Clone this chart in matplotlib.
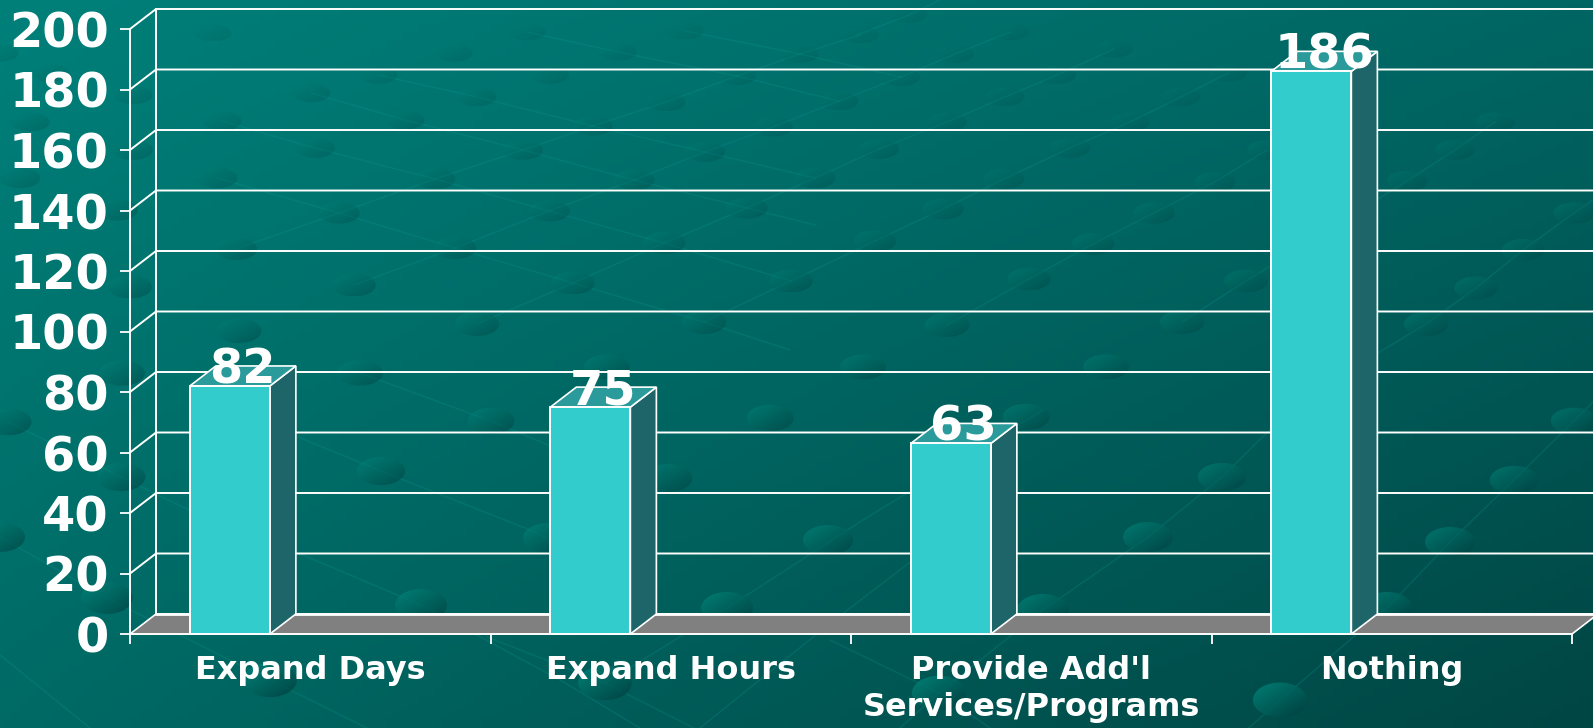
import numpy as np
import matplotlib
matplotlib.use('Agg')
import matplotlib.pyplot as plt
from matplotlib.patches import Ellipse, Polygon

# dane wykresu
categories = ['Expand Days', 'Expand Hours', "Provide Add'l\nServices/Programs", 'Nothing']
values = [82, 75, 63, 186]
y_ticks = [0, 20, 40, 60, 80, 100, 120, 140, 160, 180, 200]

# kropki tla (piksele obrazka)
dots = [(213, 33), (527, 32), (685, 31), (454, 53), (618, 52), (800, 54), (860, 35), (378, 75), (550, 75),
        (737, 76), (311, 93), (477, 97), (666, 102), (839, 101), (222, 121), (405, 120), (593, 126), (773, 127),
        (315, 148), (523, 150), (705, 152), (217, 178), (435, 179), (634, 180), (815, 178), (339, 213), (549, 211),
        (747, 208), (236, 249), (455, 248), (664, 243), (354, 285), (573, 283), (791, 281), (239, 331), (477, 324),
        (704, 322), (909, 15), (1010, 32), (955, 54), (1114, 49), (901, 77), (1057, 75), (1228, 73), (1005, 97),
        (1181, 97), (947, 122), (1130, 122), (879, 149), (1070, 148), (1267, 150), (1455, 150), (1495, 122),
        (1004, 179), (1215, 182), (1407, 181), (943, 209), (1154, 213), (1574, 213), (875, 241), (1093, 244),
        (1523, 250), (1029, 279), (1246, 281), (1476, 288), (947, 325), (1182, 322), (1426, 324), (8, 422),
        (122, 373), (360, 373), (607, 367), (491, 421), (770, 418), (121, 477), (381, 471), (668, 478), (0, 537),
        (548, 538), (107, 598), (421, 605), (727, 608), (270, 680), (605, 683), (863, 367), (1106, 367), (1026, 417),
        (1222, 477), (1574, 421), (1514, 480), (828, 540), (1148, 537), (1450, 542), (1043, 610), (1387, 608),
        (939, 693), (1280, 700), (30, 122), (20, 178), (50, 73), (0, 53), (133, 95), (133, 150), (117, 210), (130, 287)]

# linie tla
rising = [[(1230, 745), (1280, 700), (1387, 608), (1450, 542), (1514, 480), (1574, 421), (1600, 395)],
          [(900, 728), (939, 693), (1043, 610), (1148, 537), (1222, 477), (1300, 400), (1426, 324), (1476, 288),
           (1523, 250), (1574, 213), (1600, 195)],
          [(1182, 322), (1246, 281), (1407, 181), (1455, 150), (1495, 122)],
          [(947, 325), (1029, 279), (1093, 244), (1154, 213), (1215, 182), (1267, 150)],
          [(875, 241), (943, 209), (1004, 179), (1070, 148), (1130, 122), (1181, 97), (1228, 73)],
          [(879, 149), (947, 122), (1005, 97), (1057, 75), (1114, 49)],
          [(901, 77), (955, 54), (1010, 32)], [(857, 35), (909, 15), (940, 0)],
          [(236, 249), (339, 213), (435, 179), (523, 150), (593, 126), (666, 102), (737, 76), (800, 54), (860, 35)],
          [(354, 285), (455, 248), (549, 211), (634, 180), (705, 152), (773, 127), (839, 101), (901, 77)],
          [(477, 324), (573, 283), (664, 243), (747, 208), (815, 178), (879, 149)],
          [(704, 322), (791, 281), (875, 241)],
          [(605, 683), (727, 608), (863, 520), (1043, 410)], [(700, 728), (828, 625), (939, 540)]]
falling = [[(217, 178), (339, 213), (455, 248), (573, 283), (704, 322), (790, 350)],
           [(222, 121), (315, 148), (435, 179), (549, 211), (664, 243), (791, 281)],
           [(311, 93), (405, 120), (523, 150), (634, 180), (747, 208), (815, 225)],
           [(378, 75), (477, 97), (593, 126), (705, 152), (815, 178)],
           [(527, 32), (618, 52), (737, 76), (839, 101)],
           [(685, 31), (800, 54), (901, 77)],
           [(298, 437), (381, 471), (530, 530), (620, 575)],
           [(298, 553), (421, 605), (560, 680), (640, 728)],
           [(0, 537), (107, 598), (184, 637), (270, 680), (367, 728)],
           [(487, 637), (605, 683), (694, 728)],
           [(360, 373), (491, 421), (560, 450)],
           [(8, 422), (121, 477), (230, 530)],
           [(0, 655), (90, 728)],
           [(830, 640), (939, 693), (990, 728)]]

# geometria w pikselach
W, H = 1593, 728
left, right, bottom, top = 130, 1572, 634, 29
depth_x, depth_y = 26, 20

fig = plt.figure(figsize=(W / 100, H / 100), dpi=100)

# tlo
bg = fig.add_axes([0, 0, 1, 1], zorder=0)
bg.axis('off')
tl, tr = np.array([0, 128, 122]), np.array([0, 102, 99])
bl, br = np.array([0, 106, 101]), np.array([0, 70, 68])
u, v = np.meshgrid(np.linspace(0, 1, 200), np.linspace(0, 1, 100))
u, v = u[..., None], v[..., None]
grad = (tl * (1 - u) + tr * u) * (1 - v) + (bl * (1 - u) + br * u) * v
bg.imshow(grad.astype(np.uint8), extent=(0, W, H, 0), aspect='auto', interpolation='bilinear', zorder=0)

for line in rising + falling:
    xs, ys = zip(*line)
    bg.plot(xs, ys, color='#12a09a', lw=1.1, alpha=0.2, zorder=1)

s, t = np.meshgrid(np.linspace(0, 1, 24), np.linspace(0, 1, 24))
mix = ((s + t) / 2)[..., None]
dot_img = np.array([0, 140, 128]) * (1 - mix) + np.array([0, 60, 60]) * mix
for x, y in dots:
    w = 36 + 19 * y / H
    h = w * (0.45 + 0.2 * y / H)
    im = bg.imshow(dot_img.astype(np.uint8), extent=(x - w / 2, x + w / 2, y + h / 2, y - h / 2), aspect='auto',
                   interpolation='bilinear', alpha=0.12 + 0.68 * y / H, zorder=2)
    el = Ellipse((x, y), w, h, transform=bg.transData)
    im.set_clip_path(el)
bg.set_xlim(0, W)
bg.set_ylim(H, 0)

# wykres
ax = fig.add_axes([left / W, (H - bottom) / H, (right - left) / W, (bottom - top) / H], zorder=1)
ax.patch.set_alpha(0)
ax.set_xlim(0, 4)
ax.set_ylim(0, 200)
dx = depth_x / (right - left) * 4
dy = depth_y / (bottom - top) * 200
white = '#ffffff'

ax.add_patch(Polygon([(0, 0), (4, 0), (4 + dx, dy), (dx, dy)], fc='#808080', ec='none', clip_on=False, zorder=2))
ax.plot([dx, 4 + dx], [dy, dy], color=white, lw=2.0, clip_on=False, zorder=3)
ax.plot([4, 4 + dx], [0, dy], color=white, lw=1.2, clip_on=False, zorder=3)
ax.plot([dx, dx], [dy, 200 + dy], color=white, lw=1.4, clip_on=False, zorder=3)
for v_ in y_ticks:
    ax.plot([0, dx, 4 + dx], [v_, v_ + dy, v_ + dy], color=white, lw=1.4 if v_ else 1.2,
            clip_on=False, zorder=3, solid_joinstyle='miter')

bar_x = [i + 0.166 for i in range(len(values))]
bar_w = 0.222
ax.bar(bar_x, values, width=bar_w, align='edge', color='#33cccc', edgecolor=white, linewidth=1.4, zorder=6,
       clip_on=False)
for x, val in zip(bar_x, values):
    ax.add_patch(Polygon([(x + bar_w, 0), (x + bar_w + dx, dy), (x + bar_w + dx, val + dy), (x + bar_w, val)],
                         fc='#1d6568', ec=white, lw=1.2, zorder=5, clip_on=False))
    ax.add_patch(Polygon([(x, val), (x + bar_w, val), (x + bar_w + dx, val + dy), (x + dx, val + dy)],
                         fc='#2a9a9a', ec=white, lw=1.2, zorder=5, clip_on=False))
    ax.annotate(str(val), (x + bar_w / 2 + dx / 2, val), xytext=(0, 2), textcoords='offset points',
                ha='center', va='baseline', color=white, fontsize=34.5, fontweight='bold', zorder=8,
                annotation_clip=False)

for side in ['top', 'right']:
    ax.spines[side].set_visible(False)
for side in ['left', 'bottom']:
    ax.spines[side].set_color(white)
    ax.spines[side].set_linewidth(1.4)
    ax.spines[side].set_zorder(7)

ax.set_yticks(y_ticks)
ax.set_xticks([0, 1, 2, 3, 4])
ax.set_xticklabels([])
ax.set_xticks([i + 0.5 for i in range(4)], minor=True)
ax.set_xticklabels(categories, minor=True, linespacing=1.25, fontweight='bold')
ax.tick_params(axis='y', length=7.2, width=1.3, color=white, labelcolor=white, labelsize=34.5, pad=8)
ax.tick_params(axis='x', which='major', length=7.2, width=1.3, color=white)
ax.tick_params(axis='x', which='minor', length=0, labelcolor=white, labelsize=23, pad=15)
for lab in ax.get_yticklabels():
    lab.set_fontweight('bold')

plt.savefig('out.png', dpi=100)
